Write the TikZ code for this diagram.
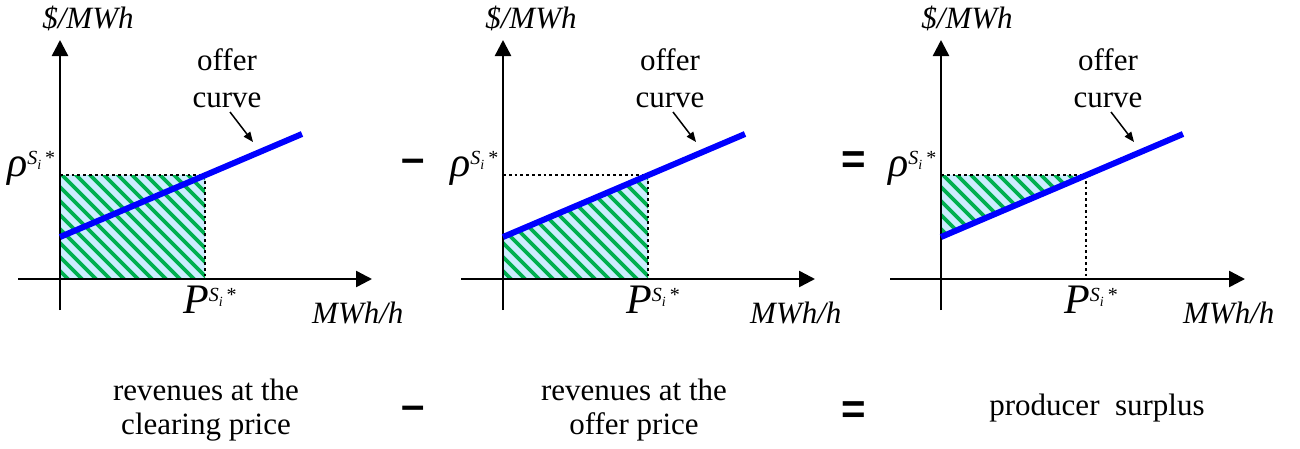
\documentclass[tikz,border=0pt]{standalone}
\usepackage{fontspec}
\setmainfont{Liberation Serif}
\newfontfamily\signfont{Liberation Sans}
\usetikzlibrary{arrows.meta}
\definecolor{hatchgreen}{RGB}{0,176,80}
\definecolor{hatchblue}{RGB}{204,236,255}
\definecolor{offerblue}{RGB}{0,0,255}
\newcommand\SiStar{\raisebox{12pt}{\fontsize{20}{20}\selectfont\itshape S\raisebox{-5pt}{\fontsize{14}{14}\selectfont i}\hspace{4pt}\upshape *}}
\tikzset{
  axisline/.style={line width=2.5pt,-{Triangle[length=16pt,width=16pt]}},
  offerline/.style={line width=6pt,offerblue},
  guide/.style={line width=2.6pt,dash pattern=on 2.8pt off 3pt},
  lbl/.style={inner sep=0pt,anchor=base,font=\rmfamily\fontsize{31}{37}\selectfont},
  ilbl/.style={inner sep=0pt,anchor=base west,font=\rmfamily\fontsize{31}{37}\selectfont\itshape},
  biglbl/.style={inner sep=0pt,anchor=base west,font=\rmfamily\fontsize{42}{42}\selectfont\itshape},
  sign/.style={inner sep=0pt,anchor=base,font=\fontsize{42}{42}\selectfont\signfont\bfseries},
  pointer/.style={line width=1.5pt,-{Triangle[length=10pt,width=8pt]}},
  hatchlines/.style={hatchgreen,line width=3.6pt},
}
\begin{document}
\begin{tikzpicture}[x=1pt,y=-1pt]
\useasboundingbox (0,0) rectangle (1300,448);
% ---------- panel 1 ----------
\begin{scope}[shift={(60,279)},name prefix=p1-]
  \begin{scope}
    \clip (0,0) rectangle (145,-104);
    \fill[hatchblue] (0,0) rectangle (145,-104);
    \foreach \k in {-168,-154,...,160} \draw[hatchlines] (\k,-120) -- ++(150,150);
  \end{scope}
  \coordinate (rt) at (0,-104);
  \coordinate (q) at (145,-104);
  \coordinate (qb) at (145,0);
  \draw[guide] (rt) -- (q) -- (qb);
  \coordinate (ybot) at (0,31);
  \coordinate (ytop) at (0,-239);
  \coordinate (xl) at (-42,0);
  \coordinate (xr) at (312,0);
  \draw[axisline] (ybot) -- (ytop);
  \draw[axisline] (xl) -- (xr);
  \coordinate (c0) at (0,-42);
  \coordinate (c1) at (242,-145);
  \draw[offerline] (c0) -- (c1);
  \node[lbl,align=center] (oc) at (167,-172) {offer\\curve};
  \coordinate (ptr) at (193,-137);
  \draw[pointer] (170,-167) -- (ptr);
  \node[biglbl] (rho) at (-53,-103) {ρ\SiStar};
  \node[biglbl] (P) at (123,34) {P\SiStar};
  \node[lbl,font=\rmfamily\fontsize{31}{37}\selectfont\itshape] (yl) at (28,-251) {\$/MWh};
  \node[ilbl] (xlab) at (252,44) {MWh/h};
\end{scope}
% ---------- panel 2 ----------
\begin{scope}[shift={(503,279)},name prefix=p2-]
  \begin{scope}
    \clip (0,0) -- (0,-42) -- (145,-103.7) -- (145,0) -- cycle;
    \fill[hatchblue] (0,0) -- (0,-42) -- (145,-103.7) -- (145,0) -- cycle;
    \foreach \k in {-168,-154,...,160} \draw[hatchlines] (\k,-120) -- ++(150,150);
  \end{scope}
  \coordinate (rt) at (0,-104);
  \coordinate (q) at (145,-104);
  \coordinate (qb) at (145,0);
  \draw[guide] (rt) -- (q) -- (qb);
  \coordinate (ybot) at (0,31);
  \coordinate (ytop) at (0,-239);
  \coordinate (xl) at (-42,0);
  \coordinate (xr) at (312,0);
  \draw[axisline] (ybot) -- (ytop);
  \draw[axisline] (xl) -- (xr);
  \coordinate (c0) at (0,-42);
  \coordinate (c1) at (242,-145);
  \draw[offerline] (c0) -- (c1);
  \node[lbl,align=center] (oc) at (167,-172) {offer\\curve};
  \coordinate (ptr) at (193,-137);
  \draw[pointer] (170,-167) -- (ptr);
  \node[biglbl] (rho) at (-53,-103) {ρ\SiStar};
  \node[biglbl] (P) at (123,34) {P\SiStar};
  \node[lbl,font=\rmfamily\fontsize{31}{37}\selectfont\itshape] (yl) at (28,-251) {\$/MWh};
  \node[ilbl] (xlab) at (247,44) {MWh/h};
\end{scope}
% ---------- panel 3 ----------
\begin{scope}[shift={(941,279)},name prefix=p3-]
  \begin{scope}
    \clip (0,-104) -- (0,-42) -- (145,-103.7) -- cycle;
    \fill[hatchblue] (0,-104) -- (0,-42) -- (145,-103.7) -- cycle;
    \foreach \k in {-168,-154,...,160} \draw[hatchlines] (\k,-120) -- ++(150,150);
  \end{scope}
  \coordinate (rt) at (0,-104);
  \coordinate (q) at (145,-104);
  \coordinate (qb) at (145,0);
  \draw[guide] (rt) -- (q) -- (qb);
  \coordinate (ybot) at (0,31);
  \coordinate (ytop) at (0,-239);
  \coordinate (xl) at (-51,0);
  \coordinate (xr) at (304,0);
  \draw[axisline] (ybot) -- (ytop);
  \draw[axisline] (xl) -- (xr);
  \coordinate (c0) at (0,-42);
  \coordinate (c1) at (242,-145);
  \draw[offerline] (c0) -- (c1);
  \node[lbl,align=center] (oc) at (167,-172) {offer\\curve};
  \coordinate (ptr) at (193,-137);
  \draw[pointer] (170,-167) -- (ptr);
  \node[biglbl] (rho) at (-53,-103) {ρ\SiStar};
  \node[biglbl] (P) at (123,34) {P\SiStar};
  \node[lbl,font=\rmfamily\fontsize{31}{37}\selectfont\itshape] (yl) at (26,-251) {\$/MWh};
  \node[ilbl] (xlab) at (242,44) {MWh/h};
\end{scope}
% ---------- signs ----------
\node[sign] (minusA) at (413,172) {–};
\node[sign] (equalsA) at (854,173) {=};
\node[sign] (minusB) at (413,419) {–};
\node[sign] (equalsB) at (854,423) {=};
% ---------- captions ----------
\node[lbl,align=center,font=\rmfamily\fontsize{31}{34}\selectfont] (capA) at (206,434) {revenues at the\\clearing price};
\node[lbl,align=center,font=\rmfamily\fontsize{31}{34}\selectfont] (capB) at (634,434) {revenues at the\\offer price};
\node[lbl] (capC) at (1097,415) {producer\ \ surplus};
\end{tikzpicture}
\end{document}
